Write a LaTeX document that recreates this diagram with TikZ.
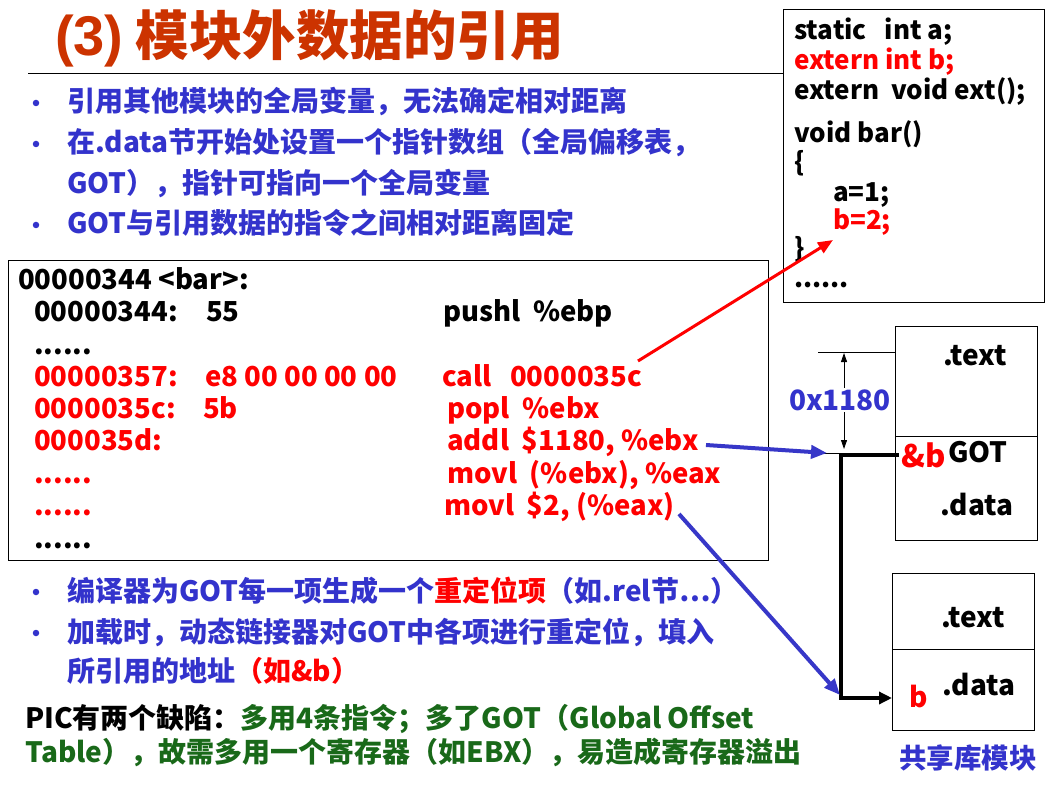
\documentclass[tikz,border=0pt]{standalone}
\usepackage{fontspec}
\setmainfont{Noto Sans CJK SC}
\newfontfamily\titlelatin{Liberation Sans}
\usetikzlibrary{arrows.meta}

\definecolor{titlered}{RGB}{204,51,0}
\definecolor{bulletblue}{RGB}{51,51,204}
\definecolor{hotred}{RGB}{255,0,0}
\definecolor{darkgreen}{RGB}{25,105,25}
\definecolor{arrowblue}{RGB}{55,55,200}

\begin{document}
\begin{tikzpicture}[x=1pt,y=-1pt,
  txt/.style={inner sep=0pt, anchor=base west, font=\bfseries\fontsize{28}{32}\selectfont},
  bullettxt/.style={txt, text=bulletblue},
  codetxt/.style={txt, font=\bfseries\fontsize{27.5}{32}\selectfont},
  srctxt/.style={txt, font=\bfseries\fontsize{26}{30}\selectfont},
  dot/.style={circle, fill=bulletblue, inner sep=0pt, minimum size=6.5pt},
  frame/.style={draw, line width=1pt, inner sep=0pt, anchor=north west},
  thickline/.style={line width=4.5pt},
  bluearrow/.style={draw=arrowblue, line width=4pt, -{Triangle[length=16pt,width=13pt]}},
  redarrow/.style={draw=hotred, line width=3pt, -{Triangle[length=15pt,width=12pt]}},
  dimarrow/.style={line width=0.8pt, {Triangle[length=9pt,width=6pt]}-{Triangle[length=9pt,width=6pt]}},
]
\useasboundingbox (0,0) rectangle (1055,794);
\fill[white] (0,0) rectangle (1055,794);

% heading and rule
\node[txt, text=titlered, font=\bfseries\fontsize{53.5}{60}\selectfont] (title) at (55,56)
  {{\titlelatin\fontsize{56}{60}\selectfont (3)} 模块外数据的引用};
\coordinate (ruleL) at (28,74);
\coordinate (ruleR) at (783,74);
\draw[line width=1pt] (ruleL) -- (ruleR);

% upper bullet list
\node[dot] (d1) at (36,103) {};
\node[bullettxt] (b1) at (67,112) {引用其他模块的全局变量，无法确定相对距离};
\node[dot] (d2) at (36,144) {};
\node[bullettxt] (b2) at (67,153) {在.data节开始处设置一个指针数组（全局偏移表，};
\node[bullettxt] (b3) at (67,194) {GOT），指针可指向一个全局变量};
\node[dot] (d4) at (36,225) {};
\node[bullettxt] (b4) at (67,234) {GOT与引用数据的指令之间相对距离固定};

% disassembly of bar
\node[frame, minimum width=760pt, minimum height=300pt] (codebox) at (8,260) {};
\node[codetxt] (l0) at (18,290) {00000344 <bar>:};
\node[codetxt] (l1a) at (34,322) {00000344:};
\node[codetxt] (l1b) at (206,322) {55};
\node[codetxt] (l1c) at (443,322) {pushl\ \ \%ebp};
\node[codetxt] (l2a) at (34,354) {......};
\node[codetxt, text=hotred] (l3a) at (34,386) {00000357:};
\node[codetxt, text=hotred] (l3b) at (205,386) {e8 00 00 00 00};
\node[codetxt, text=hotred] (l3c) at (442,386) {call};
\node[codetxt, text=hotred] (l3d) at (510,386) {0000035c};
\node[codetxt, text=hotred] (l4a) at (34,418) {0000035c:};
\node[codetxt, text=hotred] (l4b) at (203,418) {5b};
\node[codetxt, text=hotred] (l4c) at (447,418) {popl\ \ \%ebx};
\node[codetxt, text=hotred] (l5a) at (34,450) {000035d:};
\node[codetxt, text=hotred] (l5c) at (447,450) {addl\ \ \$1180, \%ebx};
\node[codetxt, text=hotred] (l6a) at (34,483) {......};
\node[codetxt, text=hotred] (l6c) at (447,483) {movl\ \ (\%ebx), \%eax};
\node[codetxt, text=hotred] (l7a) at (34,515) {......};
\node[codetxt, text=hotred] (l7c) at (444,515) {movl\ \ \$2, (\%eax)};
\node[codetxt] (l8a) at (34,548) {......};

% C source of the module
\node[frame, minimum width=261pt, minimum height=293pt] (srcbox) at (783,9) {};
\node[srctxt] (s1) at (794,40) {static\ \ \ int a;};
\node[srctxt, text=hotred] (s2) at (794,70) {extern int b;};
\node[srctxt] (s3) at (794,100) {extern\ \ void ext();};
\node[srctxt] (s4) at (794,143) {void bar()};
\node[srctxt] (s5) at (794,172) {\{};
\node[srctxt] (s6) at (833,202) {a=1;};
\node[srctxt, text=hotred] (s7) at (833,230) {b=2;};
\node[srctxt] (s8) at (794,258) {\}};
\node[srctxt] (s9) at (794,288) {......};

% calling module: .text / .data with GOT
\node[frame, minimum width=142pt, minimum height=110pt] (m1text) at (895,326) {};
\node[frame, minimum width=142pt, minimum height=104pt] (m1data) at (895,436) {};
\node[txt] (m1textlbl) at (943,365) {.text};
\node[txt, text=hotred, font=\bfseries\fontsize{31}{32}\selectfont] (gotb) at (901,467) {\&b};
\node[txt] (gotlbl) at (948,462) {GOT};
\node[txt] (m1datalbl) at (940,515) {.data};

% shared library module
\node[frame, minimum width=142pt, minimum height=76pt] (m2text) at (892,573) {};
\node[frame, minimum width=142pt, minimum height=81pt] (m2data) at (892,649) {};
\node[txt] (m2textlbl) at (941,627) {.text};
\node[txt] (m2datalbl) at (942,695) {.data};
\node[txt, text=hotred] (blbl) at (909,707) {b};
\node[inner sep=0pt, text=bulletblue, font=\bfseries\fontsize{27.5}{30}\selectfont] (libname) at (968,758) {共享库模块};

% offset between the two reference lines
\coordinate (refTopL) at (818,352);
\coordinate (refTopR) at (895,352);
\coordinate (refBotL) at (815,453);
\coordinate (refBotR) at (842,453);
\draw[line width=0.8pt] (refTopL) -- (refTopR);
\draw[line width=0.8pt] (refBotL) -- (refBotR);
\coordinate (dimA) at (844,353);
\coordinate (dimB) at (844,449);
\draw[dimarrow] (dimA) -- (dimB);
\node[fill=white, inner sep=1pt, text=bulletblue, font=\bfseries\fontsize{28}{30}\selectfont] (dimlbl) at (840,400) {0x1180};

% GOT entry pointing to b
\coordinate (gotEntry) at (899,455);
\coordinate (gotCorner) at (841,455);
\coordinate (bEntry) at (892,698);
\draw[thickline, -{Triangle[length=13pt,width=12pt]}] (gotEntry) -- (gotCorner) |- (bEntry);

% connectors from the code
\coordinate (callTail) at (638,361);
\coordinate (bTip) at (833,240);
\draw[redarrow] (callTail) -- (bTip);
\coordinate (addlTail) at (706,445);
\coordinate (gotTip) at (827,453);
\draw[bluearrow] (addlTail) -- (gotTip);
\coordinate (movTail) at (679,514);
\coordinate (bTip2) at (840,695);
\draw[bluearrow] (movTail) -- (bTip2);

% lower bullet list
\node[dot] (d5) at (36,592) {};
\node[bullettxt] (c1) at (67,601) {编译器为GOT每一项生成一个{\color{hotred}重定位项}（如.rel节…）};
\node[dot] (d6) at (36,633) {};
\node[bullettxt] (c2) at (67,642) {加载时，动态链接器对GOT中各项进行重定位，填入};
\node[bullettxt] (c3) at (67,681) {所引用的地址{\color{hotred}（如\&b）}};

% closing remark
\node[txt] (p1) at (25,728) {PIC有两个缺陷：{\color{darkgreen}多用4条指令；多了GOT（Global Offset}};
\node[txt, text=darkgreen] (p2) at (25,762) {Table），故需多用一个寄存器（如EBX），易造成寄存器溢出};
\end{tikzpicture}
\end{document}
